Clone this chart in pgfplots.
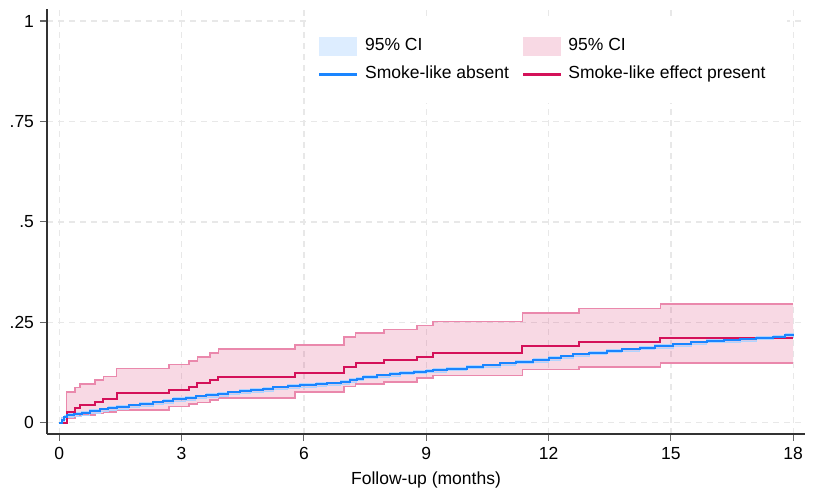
\documentclass[border=0pt]{standalone}
\usepackage{fontspec}
\setmainfont{Liberation Sans}
\usepackage{pgfplots}
\usepackage{pgfplotstable}
\pgfplotsset{compat=1.18}
\usepgfplotslibrary{fillbetween}

\definecolor{stcA}{RGB}{26,133,255}
\definecolor{stcB}{RGB}{212,17,89}

\pgfplotsset{
    cipatch/.style={legend image code/.code={\fill[##1] (0bp,-9bp) rectangle (37bp,9bp);}},
    estline/.style={legend image code/.code={\fill[##1] (0bp,-0.8bp) rectangle (37bp,0.8bp);}},
}

% smoke-like absent: time, estimate, lower, upper
\pgfplotstableread{
t est lo hi
0 0 0 0
0.06 0.008 0.003 0.012
0.12 0.015 0.009 0.019
0.20 0.019 0.013 0.022
0.35 0.022 0.016 0.025
0.55 0.025 0.019 0.028
0.75 0.029 0.023 0.032
1.00 0.033 0.027 0.036
1.20 0.037 0.031 0.040
1.41 0.040 0.034 0.043
1.70 0.043 0.037 0.046
1.98 0.047 0.041 0.050
2.30 0.051 0.045 0.054
2.55 0.055 0.049 0.058
2.80 0.059 0.053 0.062
3.10 0.062 0.056 0.065
3.35 0.066 0.060 0.069
3.61 0.069 0.063 0.072
3.90 0.072 0.066 0.075
4.15 0.076 0.070 0.079
4.43 0.079 0.073 0.082
4.70 0.082 0.076 0.085
5.00 0.085 0.079 0.088
5.25 0.088 0.082 0.091
5.60 0.092 0.086 0.095
5.90 0.094 0.088 0.097
6.30 0.096 0.090 0.099
6.56 0.098 0.092 0.101
6.90 0.102 0.096 0.105
7.13 0.106 0.100 0.109
7.30 0.110 0.104 0.113
7.46 0.115 0.109 0.118
7.80 0.118 0.113 0.121
8.10 0.121 0.116 0.124
8.36 0.125 0.120 0.128
8.70 0.127 0.122 0.130
9.00 0.130 0.125 0.133
9.17 0.131 0.126 0.134
9.50 0.134 0.129 0.137
9.99 0.139 0.134 0.142
10.40 0.143 0.138 0.146
10.81 0.148 0.143 0.151
11.20 0.152 0.147 0.155
11.63 0.156 0.151 0.159
12.00 0.161 0.156 0.164
12.30 0.165 0.160 0.168
12.61 0.170 0.165 0.173
13.00 0.174 0.169 0.177
13.43 0.179 0.174 0.182
13.80 0.183 0.178 0.186
14.24 0.187 0.182 0.190
14.60 0.191 0.186 0.194
15.06 0.195 0.190 0.198
15.50 0.200 0.195 0.203
15.88 0.204 0.199 0.207
16.30 0.206 0.201 0.209
16.70 0.208 0.203 0.211
17.10 0.211 0.206 0.214
17.51 0.214 0.209 0.217
17.80 0.218 0.213 0.221
18.00 0.220 0.215 0.223
}\absent

% smoke-like effect present
\pgfplotstableread{
t est lo hi
0 0 0 0
0.18 0.027 0.011 0.077
0.385 0.037 0.015 0.088
0.51 0.044 0.019 0.096
0.88 0.051 0.023 0.106
1.08 0.058 0.027 0.115
1.41 0.073 0.032 0.135
2.69 0.081 0.040 0.145
3.18 0.090 0.047 0.154
3.39 0.098 0.051 0.164
3.70 0.106 0.057 0.174
3.90 0.115 0.061 0.183
5.78 0.123 0.077 0.193
6.98 0.138 0.090 0.213
7.27 0.148 0.096 0.223
7.97 0.156 0.102 0.232
8.77 0.164 0.111 0.242
9.17 0.174 0.117 0.252
11.36 0.191 0.133 0.273
12.75 0.202 0.139 0.284
14.74 0.212 0.149 0.296
18.00 0.212 0.149 0.296
}\present

\begin{document}
\fontsize{17.5bp}{21bp}\selectfont
\begin{tikzpicture}
\begin{axis}[
    at={(47bp,58bp)}, anchor=south west,
    scale only axis,
    width=758bp, height=425bp,
    xmin=-0.30, xmax=18.29,
    ymin=-0.028, ymax=1.03,
    axis x line*=bottom, axis y line*=left,
    axis line style={black!80, line width=1.2bp},
    xtick={0,3,...,18},
    ytick={0,0.25,0.5,0.75,1},
    yticklabels={0,.25,.5,.75,1},
    tick align=outside,
    major tick length=7bp,
    tick style={black!60, line width=1.2bp},
    grid=major,
    grid style={dash pattern=on 6bp off 5bp, line width=1.3bp, black!9},
    /pgf/number format/assume math mode=true,
    ticklabel style={font=\fontsize{17.5bp}{21bp}\selectfont},
    xlabel={Follow-up (months)},
    xlabel style={font=\fontsize{17.5bp}{21bp}\selectfont, yshift=-1bp},
    legend columns=2,
    legend cell align=left,
    legend style={
        at={(rel axis cs:0.3417,0.9812)}, anchor=north west,
        draw=none, fill=white,
        inner xsep=13bp, inner ysep=20bp,
        font=\fontsize{17.5bp}{21bp}\selectfont,
        nodes={inner xsep=8.5bp, inner ysep=0bp, text height=13bp, text depth=5bp},
        row sep=9.5bp,
        /tikz/every odd column/.append style={column sep=0bp},
        /tikz/every even column/.append style={column sep=5bp},
    },
]

% pink CI band
\addplot[const plot, name path=rU, draw=stcB!50, line width=1.5bp, forget plot] table[x=t, y=hi] {\present};
\addplot[const plot, name path=rL, draw=stcB!50, line width=1.5bp, forget plot] table[x=t, y=lo] {\present};
\addplot[stcB, fill opacity=0.16, draw=none, forget plot] fill between[of=rU and rL];

% blue CI band
\addplot[const plot, name path=bU, draw=stcA!35, line width=1bp, forget plot] table[x=t, y=hi] {\absent};
\addplot[const plot, name path=bL, draw=stcA!35, line width=1bp, forget plot] table[x=t, y=lo] {\absent};
\addplot[stcA, fill opacity=0.16, draw=none, forget plot] fill between[of=bU and bL];

% estimates
\addplot[const plot, stcB, line width=2bp, forget plot] table[x=t, y=est] {\present};
\addplot[const plot, stcA, line width=2bp, forget plot] table[x=t, y=est] {\absent};

\addlegendimage{stcA!15, cipatch}
\addlegendentry{95\% CI}
\addlegendimage{stcB!16, cipatch}
\addlegendentry{95\% CI}
\addlegendimage{stcA, estline}
\addlegendentry{Smoke-like absent}
\addlegendimage{stcB, estline}
\addlegendentry{Smoke-like effect present}

\end{axis}
\path (0,0) rectangle (815bp,492bp);
\end{tikzpicture}
\end{document}
